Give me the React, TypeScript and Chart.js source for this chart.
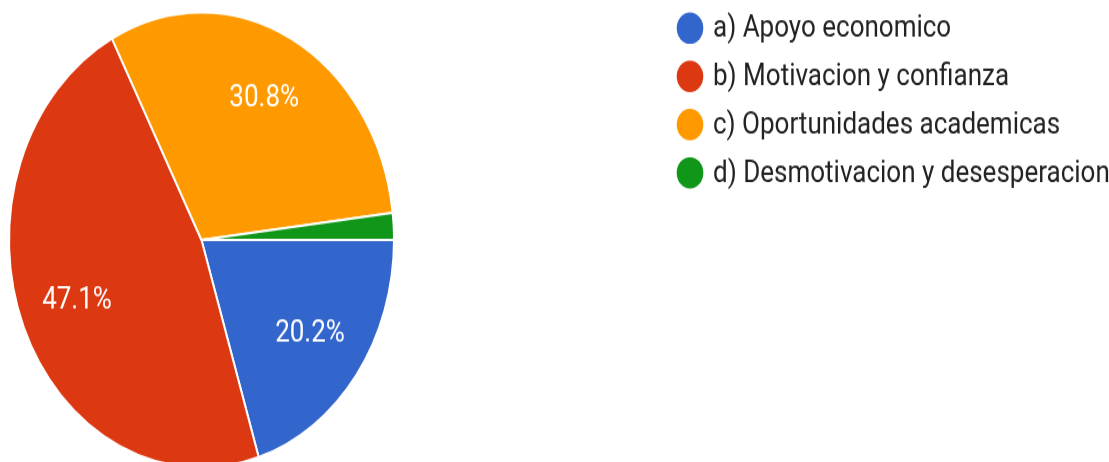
import React, { useEffect, useRef } from "react";
import { Chart, registerables } from "chart.js";

Chart.register(...registerables);

const categories = [
  "a) Apoyo economico",
  "b) Motivacion y confianza",
  "c) Oportunidades academicas",
  "d) Desmotivacion y desesperacion",
];
const shares = [20.2, 47.1, 30.8, 1.9];
const sliceColors = ["#3366cc", "#dc3912", "#ff9900", "#109618"];

const W = 1109;
const H = 400;
const STRETCH = 1.182;

const labelPlugin = {
  id: "sliceLabels",
  afterDatasetsDraw(chart: any) {
    const ctx = chart.ctx;
    const meta = chart.getDatasetMeta(0);
    const data = chart.data.datasets[0].data as number[];
    const total = data.reduce((a, b) => a + b, 0);
    ctx.save();
    ctx.fillStyle = "#ffffff";
    ctx.font = "26px Roboto";
    ctx.textAlign = "center";
    ctx.textBaseline = "middle";
    meta.data.forEach((arc: any, i: number) => {
      const pct = (data[i] / total) * 100;
      if (pct < 5) return;
      const p = arc.getProps(["x", "y", "startAngle", "endAngle", "outerRadius"], true);
      const mid = (p.startAngle + p.endAngle) / 2;
      const r = p.outerRadius * 0.7;
      ctx.fillText(pct.toFixed(1) + "%", p.x + Math.cos(mid) * r, p.y + Math.sin(mid) * r);
    });
    ctx.restore();
  },
};

const legendPlugin = {
  id: "sideLegend",
  afterDraw(chart: any) {
    const ctx = chart.ctx;
    const labels = chart.data.labels as string[];
    const colors = chart.data.datasets[0].backgroundColor as string[];
    ctx.save();
    ctx.font = "26px Roboto";
    ctx.textBaseline = "middle";
    ctx.textAlign = "left";
    labels.forEach((lab, i) => {
      const y = 23.8 + i * 40.8;
      ctx.fillStyle = colors[i];
      ctx.beginPath();
      ctx.arc(690, y, 13.3, 0, Math.PI * 2);
      ctx.fill();
      ctx.fillStyle = "#222222";
      ctx.fillText(lab, 713, y + 1);
    });
    ctx.restore();
  },
};

export default function App() {
  const ref = useRef<HTMLCanvasElement | null>(null);
  useEffect(() => {
    if (!ref.current) return;
    const chart = new Chart(ref.current, {
      type: "pie",
      data: {
        labels: categories,
        datasets: [
          {
            data: shares,
            backgroundColor: sliceColors,
            borderColor: "#ffffff",
            borderWidth: 2,
          },
        ],
      },
      options: {
        responsive: false,
        animation: false,
        devicePixelRatio: 1,
        rotation: 90,
        layout: { padding: { left: 8, right: 714, top: 9.5, bottom: 3.5 } },
        plugins: {
          legend: { display: false },
          tooltip: { enabled: false },
        },
      },
      plugins: [labelPlugin, legendPlugin],
    });
    return () => chart.destroy();
  }, []);
  return (
    <div
      style={{
        position: "fixed",
        left: 0,
        top: 0,
        width: W,
        height: 462,
        overflow: "hidden",
        background: "#ffffff",
      }}
    >
      <div
        style={{
          width: W,
          height: H,
          transform: `scaleY(${STRETCH})`,
          transformOrigin: "0 0",
        }}
      >
        <canvas ref={ref} width={W} height={H} style={{ width: W, height: H }} />
      </div>
    </div>
  );
}
